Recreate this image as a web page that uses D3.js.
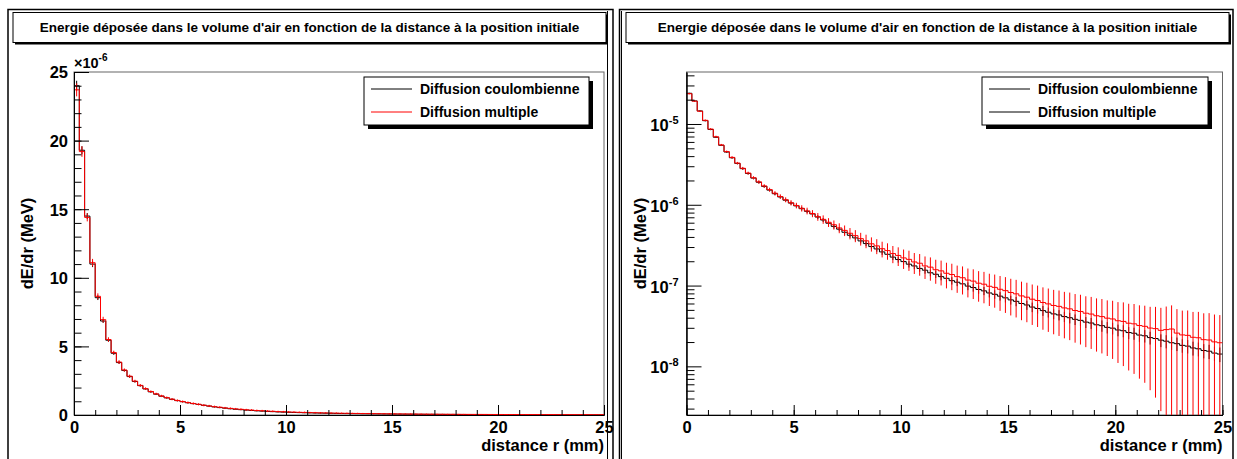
<!DOCTYPE html>
<html>
<head>
<meta charset="utf-8">
<script src="https://cdn.jsdelivr.net/npm/d3@7"></script>
<style>
  body { margin: 0; background: #fff; }
  svg { display: block; font-family: "Liberation Sans", Arial, Helvetica, sans-serif; font-weight: bold; }
</style>
</head>
<body>
<svg id="chart" width="1237" height="459"></svg>
<script>
// textes du graphique
const titleText = "Energie déposée dans le volume d'air en fonction de la distance à la position initiale";
const seriesNames = ["Diffusion coulombienne", "Diffusion multiple"];
const xTitle = "distance r (mm)";
const yTitle = "dE/dr (MeV)";

// axe x : 100 bins de 0.25 mm entre 0 et 25 mm
const xDomain = [0, 25];
const xMajorTicks = [0, 5, 10, 15, 20, 25];
const xMinorTicks = d3.range(0, 26, 1);

// axe y lineaire (gauche) en unites de 1e-6 MeV
const yLinDomain = [0, 25e-6];
const yLinMajorTicks = [0, 5e-6, 10e-6, 15e-6, 20e-6, 25e-6];
const yLinMinorTicks = d3.range(0, 26).map(d => d * 1e-6);
const yLinLabels = ["0", "5", "10", "15", "20", "25"];

// axe y logarithmique (droite)
const yLogDomain = [2.5e-9, 4.4e-5];
const yLogMajorTicks = [1e-8, 1e-7, 1e-6, 1e-5];
const yLogExponents = ["-8", "-7", "-6", "-5"];

// Diffusion coulombienne (noir)
const coulomb = [
  2.40e-5, 1.93e-5, 1.45e-5, 1.10e-5, 8.55e-6, 6.85e-6, 5.45e-6, 4.50e-6, 3.82e-6, 3.25e-6,
  2.80e-6, 2.44e-6, 2.14e-6, 1.90e-6, 1.69e-6, 1.52e-6, 1.37e-6, 1.25e-6, 1.14e-6, 1.05e-6,
  9.7e-7, 8.95e-7, 8.3e-7, 7.7e-7, 7.05e-7, 6.48e-7, 5.91e-7, 5.40e-7, 4.99e-7, 4.57e-7,
  4.19e-7, 3.89e-7, 3.57e-7, 3.31e-7, 3.04e-7, 2.84e-7, 2.61e-7, 2.44e-7, 2.25e-7, 2.10e-7,
  1.98e-7, 1.84e-7, 1.75e-7, 1.63e-7, 1.55e-7, 1.44e-7, 1.38e-7, 1.29e-7, 1.23e-7, 1.15e-7,
  1.10e-7, 1.05e-7, 9.85e-8, 9.45e-8, 8.95e-8, 8.6e-8, 8.1e-8, 7.8e-8, 7.4e-8, 7.05e-8,
  6.65e-8, 6.38e-8, 6.0e-8, 5.75e-8, 5.42e-8, 5.2e-8, 4.9e-8, 4.68e-8, 4.46e-8, 4.33e-8,
  4.13e-8, 4.0e-8, 3.82e-8, 3.71e-8, 3.53e-8, 3.44e-8, 3.27e-8, 3.19e-8, 3.04e-8, 2.97e-8,
  2.82e-8, 2.76e-8, 2.62e-8, 2.57e-8, 2.44e-8, 2.39e-8, 2.27e-8, 2.21e-8, 2.11e-8, 2.05e-8,
  1.96e-8, 1.91e-8, 1.82e-8, 1.78e-8, 1.69e-8, 1.65e-8, 1.57e-8, 1.54e-8, 1.46e-8, 1.42e-8
];

// Diffusion multiple (rouge)
const multiple = [
  2.37e-5, 1.92e-5, 1.44e-5, 1.11e-5, 8.65e-6, 6.95e-6, 5.50e-6, 4.55e-6, 3.86e-6, 3.28e-6,
  2.83e-6, 2.47e-6, 2.16e-6, 1.92e-6, 1.71e-6, 1.54e-6, 1.39e-6, 1.265e-6, 1.155e-6, 1.06e-6,
  9.8e-7, 9.05e-7, 8.4e-7, 7.8e-7, 7.12e-7, 6.6e-7, 6.07e-7, 5.66e-7, 5.17e-7, 4.82e-7,
  4.44e-7, 4.15e-7, 3.81e-7, 3.58e-7, 3.29e-7, 3.10e-7, 2.86e-7, 2.71e-7, 2.49e-7, 2.36e-7,
  2.20e-7, 2.11e-7, 1.96e-7, 1.89e-7, 1.75e-7, 1.69e-7, 1.57e-7, 1.52e-7, 1.42e-7, 1.37e-7,
  1.29e-7, 1.25e-7, 1.17e-7, 1.135e-7, 1.07e-7, 1.04e-7, 9.8e-8, 9.5e-8, 9.0e-8, 8.65e-8,
  8.2e-8, 7.9e-8, 7.45e-8, 7.18e-8, 6.78e-8, 6.53e-8, 6.17e-8, 5.93e-8, 5.67e-8, 5.53e-8,
  5.29e-8, 5.15e-8, 4.91e-8, 4.78e-8, 4.55e-8, 4.44e-8, 4.23e-8, 4.13e-8, 3.95e-8, 3.86e-8,
  3.67e-8, 3.60e-8, 3.42e-8, 3.36e-8, 3.20e-8, 3.13e-8, 2.98e-8, 2.93e-8, 2.79e-8, 2.85e-8,
  2.90e-8, 2.58e-8, 2.45e-8, 2.42e-8, 2.29e-8, 2.26e-8, 2.14e-8, 2.12e-8, 2.01e-8, 1.96e-8
];

const coulombErrPct = [
  1.5, 1.5, 1.5, 2, 2, 2, 2, 2.5, 2.5, 2.5,
  3, 3, 3, 3.5, 3.5, 3.5, 4, 4, 4, 4.5,
  4.5, 5, 5, 5, 5.5, 5.5, 6, 6, 6, 6.5,
  6.5, 7, 7, 7, 7.5, 7.5, 8, 8, 8, 8.5,
  8.5, 9, 9, 9, 9.5, 9.5, 10, 10, 10, 10.5,
  10.5, 11, 11, 11, 11.5, 11.5, 12, 12, 12, 12.5,
  12.5, 13, 13, 13, 13.5, 13.5, 14, 14, 14, 14.5,
  14.5, 15, 15, 15, 15.5, 15.5, 16, 16, 16, 16.5,
  16.5, 17, 17, 17, 17.5, 17.5, 18, 18, 18, 18.5,
  18.5, 19, 19, 19, 19.5, 19.5, 20, 20, 20, 20.5
];
const multipleErrPct = [
  2, 2, 2, 2.5, 2.5, 3, 3, 3, 3.5, 3.5,
  4, 4, 4.5, 5, 5, 5.5, 6, 6.5, 7, 7.5,
  8, 9, 9.5, 10, 11, 12, 12.5, 13, 14, 15,
  16, 17, 18, 19, 20, 21, 22, 23, 24, 26,
  27, 28, 29, 30, 31, 32, 33, 34, 35, 36,
  37, 38, 39, 40, 41, 42, 43, 44, 46, 47,
  48, 49, 50, 51, 52, 53, 54, 55, 56, 57,
  58, 59, 60, 61, 62, 63, 64, 65, 66, 68,
  70, 72, 74, 76, 78, 80, 83, 86, 90, 93,
  96, 98, 100, 103, 106, 109, 112, 115, 118, 120
];

const svg = d3.select("#chart");
const binW = (xDomain[1] - xDomain[0]) / coulomb.length;

const panels = [
  { log: false, id: "left",  padL: 8,   padR: 613,  inner: 607.5, title: [13, 606],
    plot: { l: 74, r: 604, t: 72, b: 415 }, legend: [364, 589], legendColors: ["#000", "#ff0000"] },
  { log: true,  id: "right", padL: 619.5, padR: 1233, inner: 621.5, title: [626, 1229],
    plot: { l: 686.5, r: 1222.5, t: 72, b: 415 }, legend: [982, 1208], legendColors: ["#000", "#000"] }
];

panels.forEach(drawPanel);

function drawPanel(p) {
  const g = svg.append("g");

  // bordures du pad
  g.append("path")
    .attr("d", `M${p.padL},459 V9.5 H${p.padR} V459`)
    .attr("fill", "none").attr("stroke", "#000").attr("stroke-width", 1.5);
  g.append("line")
    .attr("x1", p.inner).attr("x2", p.inner).attr("y1", 11).attr("y2", 459)
    .attr("stroke", "#000").attr("stroke-width", 1);

  // boite du titre avec ombre
  const [tx0, tx1] = p.title;
  g.append("rect").attr("x", tx0 + 2).attr("y", 14.5).attr("width", tx1 - tx0).attr("height", 30).attr("fill", "#000");
  g.append("rect").attr("x", tx0).attr("y", 12.5).attr("width", tx1 - tx0).attr("height", 30)
    .attr("fill", "#fff").attr("stroke", "#000").attr("stroke-width", 1);
  g.append("text").attr("x", (tx0 + tx1) / 2).attr("y", 32).attr("text-anchor", "middle")
    .attr("font-size", 13.5).text(titleText);

  const pl = p.plot;
  const x = d3.scaleLinear().domain(xDomain).range([pl.l, pl.r]);
  const y = p.log
    ? d3.scaleLog().domain(yLogDomain).range([pl.b, pl.t])
    : d3.scaleLinear().domain(yLinDomain).range([pl.b, pl.t]);

  // cadre gris (haut et droite)
  g.append("rect").attr("x", pl.l).attr("y", pl.t).attr("width", pl.r - pl.l).attr("height", pl.b - pl.t)
    .attr("fill", "none").attr("stroke", "#666").attr("stroke-width", 1);

  const clipId = "clip-" + p.id;
  svg.append("clipPath").attr("id", clipId)
    .append("rect").attr("x", pl.l).attr("y", pl.t).attr("width", pl.r - pl.l).attr("height", pl.b - pl.t);
  const plotG = g.append("g").attr("clip-path", `url(#${clipId})`);

  const series = [
    { vals: coulomb, err: coulombErrPct, color: "#000" },
    { vals: multiple, err: multipleErrPct, color: "#ff0000" }
  ];

  series.forEach(s => {
    const pts = [];
    s.vals.forEach((v, i) => {
      pts.push([xDomain[0] + i * binW, v]);
      pts.push([xDomain[0] + (i + 1) * binW, v]);
    });
    const line = d3.line().x(d => x(d[0])).y(d => y(d[1]));
    plotG.append("path").datum(pts).attr("d", line)
      .attr("fill", "none").attr("stroke", s.color).attr("stroke-width", 1);

    plotG.selectAll(null).data(s.vals).enter().append("line")
      .attr("x1", (d, i) => x(xDomain[0] + (i + 0.5) * binW))
      .attr("x2", (d, i) => x(xDomain[0] + (i + 0.5) * binW))
      .attr("y1", (d, i) => y(d * (1 + s.err[i] / 100)))
      .attr("y2", (d, i) => {
        const lo = d * (1 - s.err[i] / 100);
        return lo <= y.domain()[0] ? pl.b + 2 : y(lo);
      })
      .attr("stroke", s.color).attr("stroke-width", 1);
  });

  // axe x
  const xMinor = d3.axisBottom(x).tickValues(xMinorTicks).tickSize(-5).tickFormat("").tickSizeOuter(0);
  const xMajor = d3.axisBottom(x).tickValues(xMajorTicks).tickSize(-10).tickSizeOuter(0);
  g.append("g").attr("transform", `translate(0,${pl.b})`).call(xMinor);
  const xg = g.append("g").attr("transform", `translate(0,${pl.b})`).call(xMajor);
  xg.selectAll("text").attr("font-size", 16.5).attr("font-weight", "bold")
    .attr("font-family", "Liberation Sans, Arial, sans-serif").attr("fill", "#000").attr("y", 6);

  // axe y
  const yg = g.append("g").attr("transform", `translate(${pl.l},0)`);
  if (p.log) {
    const minors = [];
    for (let e = -9; e <= -5; e++) {
      for (let k = 2; k <= 9; k++) {
        const v = k * Math.pow(10, e);
        if (v >= yLogDomain[0] && v <= yLogDomain[1]) minors.push(v);
      }
    }
    yg.call(d3.axisLeft(y).tickValues(minors).tickSize(-8).tickFormat("").tickSizeOuter(0));
    const ym = g.append("g").attr("transform", `translate(${pl.l},0)`)
      .call(d3.axisLeft(y).tickValues(yLogMajorTicks).tickSize(-15).tickSizeOuter(0).tickFormat(""));
    ym.selectAll(".tick").append("text")
      .attr("x", -8).attr("dy", "0.4em").attr("text-anchor", "end").attr("fill", "#000")
      .attr("font-size", 16.5).attr("font-weight", "bold")
      .attr("font-family", "Liberation Sans, Arial, sans-serif")
      .each(function (d, i) {
        const t = d3.select(this);
        t.append("tspan").text("10");
        t.append("tspan").attr("font-size", 11).attr("dy", "-0.65em").text(yLogExponents[i]);
      });
  } else {
    yg.call(d3.axisLeft(y).tickValues(yLinMinorTicks).tickSize(-7.5).tickFormat("").tickSizeOuter(0));
    const ym = g.append("g").attr("transform", `translate(${pl.l},0)`)
      .call(d3.axisLeft(y).tickValues(yLinMajorTicks).tickSize(-15).tickSizeOuter(0)
        .tickFormat((d, i) => yLinLabels[i]));
    ym.selectAll("text").attr("font-size", 16.5).attr("font-weight", "bold").attr("fill", "#000")
      .attr("font-family", "Liberation Sans, Arial, sans-serif").attr("x", -6).attr("dy", "0.36em");
    const ex = g.append("text").attr("x", pl.l).attr("y", 68).attr("font-size", 14.5);
    ex.append("tspan").text("×10");
    ex.append("tspan").attr("font-size", 10).attr("dy", -7).text("-6");
  }
  g.selectAll(".domain").attr("stroke", "#000");
  g.selectAll(".tick line").attr("stroke", "#000");

  // titres des axes
  g.append("text").attr("x", pl.r).attr("y", 451).attr("text-anchor", "end")
    .attr("font-size", 16.5).text(xTitle);
  g.append("text").attr("transform", `translate(${pl.l - 41},${(pl.t + pl.b) / 2}) rotate(-90)`)
    .attr("text-anchor", "middle").attr("font-size", 16.5).text(yTitle);

  // legende
  const [lx0, lx1] = p.legend;
  g.append("rect").attr("x", lx0 + 4).attr("y", 81).attr("width", lx1 - lx0).attr("height", 48).attr("fill", "#000");
  g.append("rect").attr("x", lx0).attr("y", 77).attr("width", lx1 - lx0).attr("height", 48)
    .attr("fill", "#fff").attr("stroke", "#000").attr("stroke-width", 1);
  seriesNames.forEach((name, i) => {
    const cy = 89 + i * 23;
    g.append("line").attr("x1", lx0 + 7).attr("x2", lx0 + 48).attr("y1", cy).attr("y2", cy)
      .attr("stroke", p.legendColors[i]).attr("stroke-width", 1);
    g.append("text").attr("x", lx0 + 56).attr("y", cy + 5).attr("font-size", 14).text(name);
  });
}
</script>
</body>
</html>
